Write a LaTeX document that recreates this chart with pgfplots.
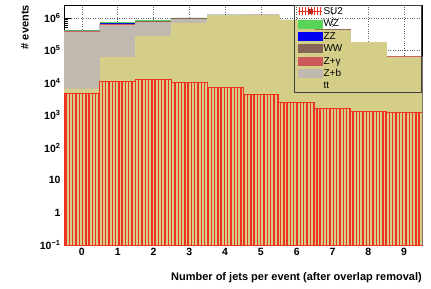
\documentclass[border=0pt]{standalone}
\usepackage{fontspec}
\setmainfont{Liberation Sans}
\usepackage{pgfplots}
\pgfplotsset{compat=1.18}
\usepackage{pgfplotstable}
\usetikzlibrary{patterns.meta}

\definecolor{ttcol}{RGB}{212,206,136}
\definecolor{zbcol}{RGB}{192,185,175}
\definecolor{zgcol}{RGB}{205,88,92}
\definecolor{wwcol}{RGB}{135,100,85}
\definecolor{zzcol}{RGB}{0,0,245}
\definecolor{wzcol}{RGB}{88,212,88}
\definecolor{su2col}{RGB}{240,50,30}

% cumulative stack tops per bin (bottom: tt, then +Z+b, +Z+gamma, +WW, +ZZ, +WZ)
\pgfplotstableread{
x tt zb zg ww zz wz su2
0 6500 370000 385000 397000 398000 422000 4800
1 61000 600000 620000 660000 662000 715000 10700
2 280000 720000 740000 790000 792000 845000 12500
3 700000 900000 910000 960000 962000 1000000 10500
4 1180000 1200000 1210000 1230000 1232000 1240000 7200
5 1200000 1230000 1235000 1240000 1242000 1245000 4300
6 830000 850000 855000 860000 862000 865000 2550
7 420000 428000 430000 432000 433000 435000 1660
8 172000 176000 177000 178000 178200 178500 1320
9 62000 63500 64000 64500 64700 65000 1240
}\histdata

\pgfplotsset{
  layers/mylayers/.define layer set={axis background,axis grid,pre main,main,axis ticks,axis lines,axis tick labels,axis descriptions,axis foreground}{},
  hist/.style={fill=#1, draw=#1, line width=0.5pt, bar width=1, bar shift=0pt,
    legend image code/.code={\fill[##1] (0pt,-3.5pt) rectangle (24pt,4.5pt);}},
}

\begin{document}
\begin{tikzpicture}
\begin{axis}[
  set layers=mylayers,
  scale only axis, width=358pt, height=240pt,
  ymode=log, ymin=0.1, ymax=2.5e6,
  xmin=-0.5, xmax=9.5,
  log origin=infty,
  ybar, bar width=1, bar shift=0pt,
  xtick={0,...,9}, minor x tick num=4,
  ytick={0.1,1,10,100,1000,10000,100000,1000000},
  yticklabels={10\textsuperscript{−1},1,10,10\textsuperscript{2},10\textsuperscript{3},10\textsuperscript{4},10\textsuperscript{5},10\textsuperscript{6}},
  /pgf/number format/assume math mode=true,
  tick align=inside, tick pos=left,
  major tick length=7pt, minor tick length=3.5pt,
  tick style={black, line width=0.6pt},
  grid=major, grid style={dotted, black!60, line width=0.6pt},
  axis line style={line width=0.8pt},
  ticklabel style={font=\fontsize{10.5}{12}\selectfont\bfseries},
  legend style={at={(1,1)}, anchor=north east, fill=none, draw=black!75, line width=0.9pt,
    font=\fontsize{10}{11}\selectfont, row sep=1.4pt, inner xsep=3pt, inner ysep=1pt,
    nodes={inner sep=1pt, text height=7pt, text depth=2pt},
    /tikz/every even column/.append style={column sep=3pt}},
  legend cell align=left,
]
\addlegendimage{legend image code/.code={
  \draw[su2col, line width=1pt] (0pt,0.5pt) -- (24pt,0.5pt);
  \foreach \xx in {1,4,...,23} {\draw[su2col, line width=0.5pt] (\xx pt,-3.5pt) -- (\xx pt,4.5pt);}
  \fill[black!20!su2col] (10pt,-1.5pt) rectangle (14pt,2.5pt);}}
\addlegendentry{\makebox[94pt][l]{SU2}}

\addplot[hist=wzcol] table[x=x, y=wz] {\histdata};
\addlegendentry{WZ}
\addplot[hist=zzcol] table[x=x, y=zz] {\histdata};
\addlegendentry{ZZ}
\addplot[hist=wwcol] table[x=x, y=ww] {\histdata};
\addlegendentry{WW}
\addplot[hist=zgcol] table[x=x, y=zg] {\histdata};
\addlegendentry{Z+γ}
\addplot[hist=zbcol] table[x=x, y=zb] {\histdata};
\addlegendentry{Z+b}
\addplot[hist=ttcol] table[x=x, y=tt] {\histdata};
\addlegendentry{tt}

\addplot[forget plot, draw=su2col, line width=0.8pt, bar width=1, bar shift=0pt,
  pattern={Lines[angle=90, distance=3.3pt, line width=1.4pt]}, pattern color=su2col]
  table[x=x, y=su2] {\histdata};
\end{axis}
\node[rotate=90, anchor=east, inner sep=0pt, font=\fontsize{11}{13}\selectfont\bfseries] at (-39pt,240pt) {\# events};
\node[anchor=east, inner sep=0pt, font=\fontsize{11}{13}\selectfont\bfseries] at (358pt,-33pt) {Number of jets per event (after overlap removal)};
\pgfresetboundingbox
\path (-64pt,-44pt) rectangle (367pt,245pt);
\end{tikzpicture}
\end{document}
